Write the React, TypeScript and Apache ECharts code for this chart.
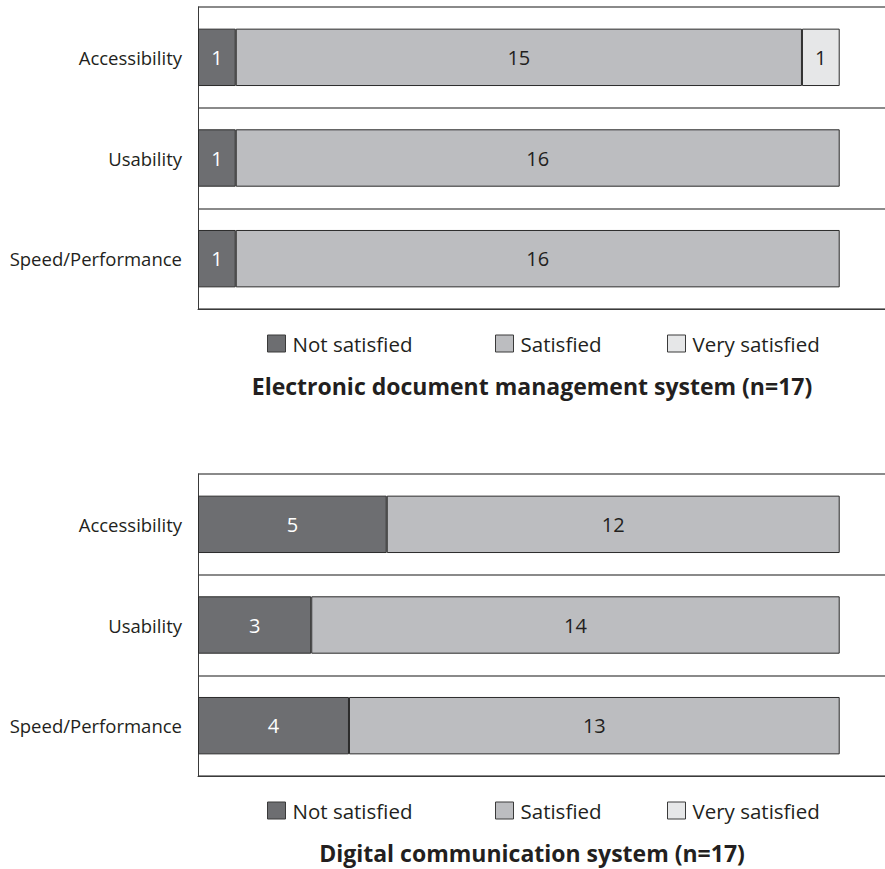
import React, { useEffect, useRef } from "react";
import * as echarts from "echarts";

const categories = ["Accessibility", "Usability", "Speed/Performance"];
const seriesNames = ["Not satisfied", "Satisfied", "Very satisfied"];

// Electronic document management system
const edmsNotSatisfied = [1, 1, 1];
const edmsSatisfied = [15, 16, 16];
const edmsVerySatisfied = [1, 0, 0];

// Digital communication system
const dcsNotSatisfied = [5, 3, 4];
const dcsSatisfied = [12, 14, 13];
const dcsVerySatisfied = [0, 0, 0];

const titles = [
  "Electronic document management system (n=17)",
  "Digital communication system (n=17)",
];

const colors = ["#6d6e71", "#bcbdc0", "#e6e7e8"];
const labelColors = ["#ffffff", "#231f20", "#231f20"];
const FONT = "Open Sans";

const GRID_TOPS = [7, 474];
const GRID_HEIGHT = 302;
const LEFT = 198;
const TITLE_X = 532;
// left edge of each legend entry
const LEGEND_LEFTS = [267, 495, 667];

export default function App() {
  const ref = useRef<HTMLDivElement>(null);

  useEffect(() => {
    if (!ref.current) return;
    const chart = echarts.init(ref.current, undefined, { renderer: "svg" });

    const groups = [
      [edmsNotSatisfied, edmsSatisfied, edmsVerySatisfied],
      [dcsNotSatisfied, dcsSatisfied, dcsVerySatisfied],
    ];

    const grid = GRID_TOPS.map((top) => ({
      left: LEFT,
      top,
      width: 885 - LEFT,
      height: GRID_HEIGHT,
      containLabel: false,
    }));

    const xAxis = GRID_TOPS.map((_, i) => ({
      type: "value",
      gridIndex: i,
      min: 0,
      max: 18.2,
      axisLine: { show: true, lineStyle: { color: "#3a3a3a", width: 1 } },
      axisTick: { show: false },
      axisLabel: { show: false },
      splitLine: { show: false },
    }));

    const yAxis = GRID_TOPS.map((_, i) => ({
      type: "category",
      gridIndex: i,
      data: categories,
      inverse: true,
      axisLine: { show: true, lineStyle: { color: "#3a3a3a", width: 1 } },
      axisTick: { show: false },
      axisLabel: {
        color: "#231f20",
        fontFamily: FONT,
        fontSize: 18.5,
        margin: 16,
      },
      splitLine: { show: true, lineStyle: { color: "#8a8a8a", width: 2 } },
    }));

    const series: any[] = [];
    groups.forEach((values, gi) => {
      values.forEach((vals, si) => {
        series.push({
          type: "bar",
          name: seriesNames[si],
          xAxisIndex: gi,
          yAxisIndex: gi,
          stack: "total" + gi,
          barWidth: "57%",
          data: vals.map((v) => (v === 0 ? null : v)),
          itemStyle: {
            color: colors[si],
            borderColor: "#2b2b2b",
            borderWidth: 1,
          },
          label: {
            show: true,
            position: "inside",
            color: labelColors[si],
            fontFamily: FONT,
            fontSize: 20,
          },
        });
      });
    });

    const legend: any[] = [];
    GRID_TOPS.forEach((top) => {
      seriesNames.forEach((name, k) => {
        legend.push({
          data: [name],
          left: LEGEND_LEFTS[k],
          top: top + GRID_HEIGHT + 24,
          icon: "rect",
          itemWidth: 18,
          itemHeight: 17,
          padding: 0,
          selectedMode: false,
          itemStyle: { borderColor: "#3a3a3a", borderWidth: 1 },
          textStyle: { color: "#231f20", fontFamily: FONT, fontSize: 20.5, padding: [0, 0, 0, 2] },
        });
      });
    });

    const graphic = GRID_TOPS.map((top, i) => ({
      type: "text",
      x: TITLE_X,
      y: top + GRID_HEIGHT + 77,
      style: {
        text: titles[i],
        fill: "#231f20",
        font: `bold 23px "${FONT}"`,
        textAlign: "center",
        textVerticalAlign: "middle",
      },
    }));

    chart.setOption({
      animation: false,
      color: colors,
      grid,
      xAxis,
      yAxis,
      series,
      legend,
      graphic,
    });

    return () => chart.dispose();
  }, []);

  return (
    <div
      ref={ref}
      style={{ position: "absolute", left: 0, top: 0, width: 885, height: 869, background: "#fff" }}
    />
  );
}
